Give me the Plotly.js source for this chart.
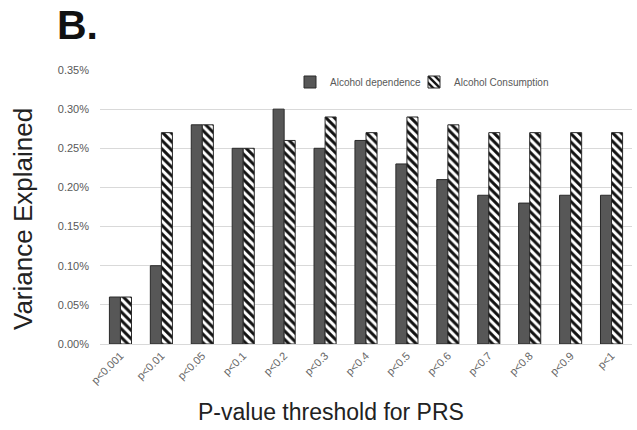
<!DOCTYPE html>
<html>
<head>
<meta charset="utf-8">
<script src="https://cdn.plot.ly/plotly-3.0.1.min.js"></script>
<style>html,body{margin:0;padding:0;background:#fff;}#chart{width:637px;height:430px;}</style>
</head>
<body>
<div id="chart"></div>
<script>
const thresholds = ['p<0.001','p<0.01','p<0.05','p<0.1','p<0.2','p<0.3','p<0.4','p<0.5','p<0.6','p<0.7','p<0.8','p<0.9','p<1'];
const dependence = [0.0006,0.0010,0.0028,0.0025,0.0030,0.0025,0.0026,0.0023,0.0021,0.0019,0.0018,0.0019,0.0019];
const consumption = [0.0006,0.0027,0.0028,0.0025,0.0026,0.0029,0.0027,0.0029,0.0028,0.0027,0.0027,0.0027,0.0027];
const yTicks = [0,0.0005,0.0010,0.0015,0.0020,0.0025,0.0030,0.0035];
const xTitle = 'P-value threshold for PRS';
const yTitle = 'Variance Explained';

const data = [
  {type:'bar', name:'Alcohol dependence', x:thresholds, y:dependence, legend:'legend',
   marker:{color:'#575757', line:{color:'#2a2a2a', width:1}}},
  {type:'bar', name:'Alcohol Consumption', x:thresholds, y:consumption, legend:'legend2',
   marker:{color:'#ffffff', line:{color:'#2a2a2a', width:1},
     pattern:{shape:'\\', fgcolor:'#111111', bgcolor:'#ffffff', size:6, solidity:0.5, fillmode:'replace'}}}
];

const W = 637, H = 430, L = 100, R = 5, T = 70, B = 86;
const pw = W - L - R, ph = H - T - B;
const legFont = {size:10, color:'#595959'};

const layout = {
  width:W, height:H,
  margin:{l:L, r:R, t:T, b:B},
  paper_bgcolor:'#ffffff', plot_bgcolor:'#ffffff',
  font:{family:'Liberation Sans, Arial, sans-serif', color:'#595959'},
  title:{text:'<b>B.</b>', xref:'container', yref:'container', x:57/W, xanchor:'left', y:1-25/H, yanchor:'middle',
    font:{size:41, color:'#111111', family:'Liberation Sans, Arial, sans-serif'}},
  barmode:'group', bargap:0.46, bargroupgap:0,
  showlegend:true,
  legend:{orientation:'h', x:(290-L)/pw, xanchor:'left', y:(H-B-82)/ph, yanchor:'middle', font:legFont, bgcolor:'rgba(0,0,0,0)'},
  legend2:{orientation:'h', x:(414-L)/pw, xanchor:'left', y:(H-B-82)/ph, yanchor:'middle', font:legFont, bgcolor:'rgba(0,0,0,0)'},
  xaxis:{tickangle:-45, tickfont:{size:11, color:'#666666'}, showgrid:false, showline:true, linecolor:'#d9d9d9', ticks:''},
  yaxis:{range:[0,0.0035], tickvals:yTicks, tickformat:'.2%', tickfont:{size:11, color:'#595959'}, ticklabelstandoff:10,
    showgrid:true, gridcolor:'#d9d9d9', zeroline:false, showline:false, ticks:''},
  annotations:[
    {text:xTitle, xref:'paper', yref:'paper', x:(331-L)/pw, y:-(412-(H-B))/ph, xanchor:'center', yanchor:'middle',
     showarrow:false, font:{size:23, color:'#222222'}},
    {text:yTitle, xref:'paper', yref:'paper', x:-(L-23)/pw, y:(H-B-219)/ph, xanchor:'center', yanchor:'middle',
     textangle:-90, showarrow:false, font:{size:26, color:'#222222'}}
  ]
};

Plotly.newPlot('chart', data, layout, {displayModeBar:false, staticPlot:true});
</script>
</body>
</html>
